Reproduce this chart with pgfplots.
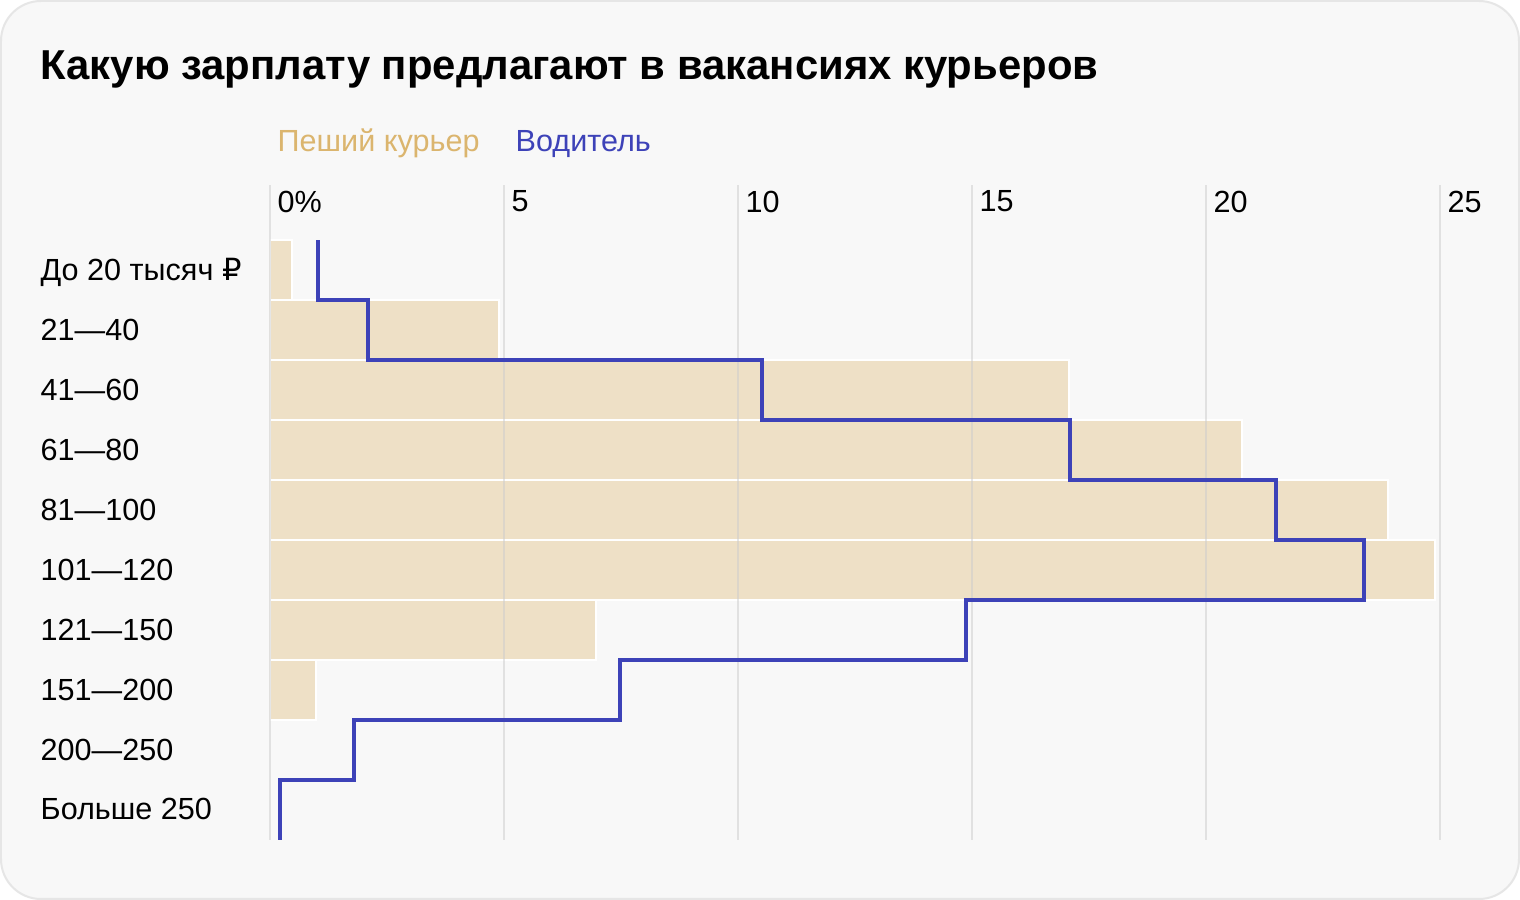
\documentclass[border=0pt]{standalone}
\usepackage{fontspec}
\setmainfont{Liberation Sans}
\newfontfamily\dejavu{DejaVu Sans}
\usepackage{pgfplots}
\pgfplotsset{compat=1.18}
\definecolor{bg}{HTML}{F8F8F8}
\definecolor{cardline}{HTML}{E6E6E6}
\definecolor{barfill}{HTML}{EEE0C6}
\definecolor{tancol}{HTML}{DBB56E}
\definecolor{drv}{HTML}{3D42B8}
\pgfplotsset{
  chartgeom/.style={
    at={(2.7cm,0.6cm)}, anchor=south west, scale only axis,
    width=11.7cm, height=6.55cm,
    xmin=0, xmax=25, ymin=-0.5, ymax=10.4167,
    axis line style={draw=none},
    major tick length=0pt,
  }
}
\begin{document}
\begin{tikzpicture}
\fill[white] (0,0) rectangle (15.2,9);
\filldraw[fill=bg, draw=cardline, line width=0.02cm, rounded corners=0.4cm] (0.01,0.01) rectangle (15.19,8.99);
\node[anchor=base west, inner sep=0, font=\fontsize{11.9}{14}\selectfont\bfseries] at (0.4,8.2) {Какую зарплату предлагают в вакансиях курьеров};
\node[anchor=base west, inner sep=0, text=tancol, font=\fontsize{8.7}{10}\selectfont] at (2.77,7.48) {Пеший курьер};
\node[anchor=base west, inner sep=0, text=drv, font=\fontsize{8.7}{10}\selectfont] at (5.15,7.48) {Водитель};
% bars underneath
\begin{axis}[chartgeom, bar width=0.6cm, xtick=\empty, ytick=\empty]
\addplot[xbar, bar shift=0pt, fill=barfill, draw=white, line width=0.02cm]
  coordinates {(0.48,9) (4.89,8) (17.07,7) (20.77,6) (23.88,5) (24.89,4) (6.97,3) (0.98,2)};
\end{axis}
% grid, labels and driver line on top
\begin{axis}[
  chartgeom,
  xmajorgrids,
  grid style={black!20, opacity=0.5, line width=0.02cm},
  xtick={0,5,10,15,20,25},
  xticklabels={0\%,5,10,15,20,25},
  xticklabel pos=upper,
  /pgf/number format/assume math mode=true,
  xticklabel style={anchor=north west, inner sep=0pt, xshift=0.07cm, yshift=-0.05cm, font=\fontsize{8.7}{10}\selectfont},
  ytick={0,...,9},
  yticklabels={Больше 250,200—250,151—200,121—150,101—120,81—100,61—80,41—60,21—40,{До 20 тысяч {\dejavu ₽}}},
  yticklabel style={anchor=base west, inner sep=0pt, xshift=-2.3cm, yshift=-0.1cm, font=\fontsize{8.7}{10}\selectfont},
]
\addplot[drv, line width=0.04cm, mark=none, line join=miter]
  coordinates {(1.03,9.5)(1.03,8.5)(2.10,8.5)(2.10,7.5)(10.51,7.5)(10.51,6.5)(17.09,6.5)(17.09,5.5)(21.5,5.5)(21.5,4.5)(23.38,4.5)(23.38,3.5)(14.87,3.5)(14.87,2.5)(7.48,2.5)(7.48,1.5)(1.79,1.5)(1.79,0.5)(0.21,0.5)(0.21,-0.5)};
\end{axis}
\end{tikzpicture}
\end{document}
